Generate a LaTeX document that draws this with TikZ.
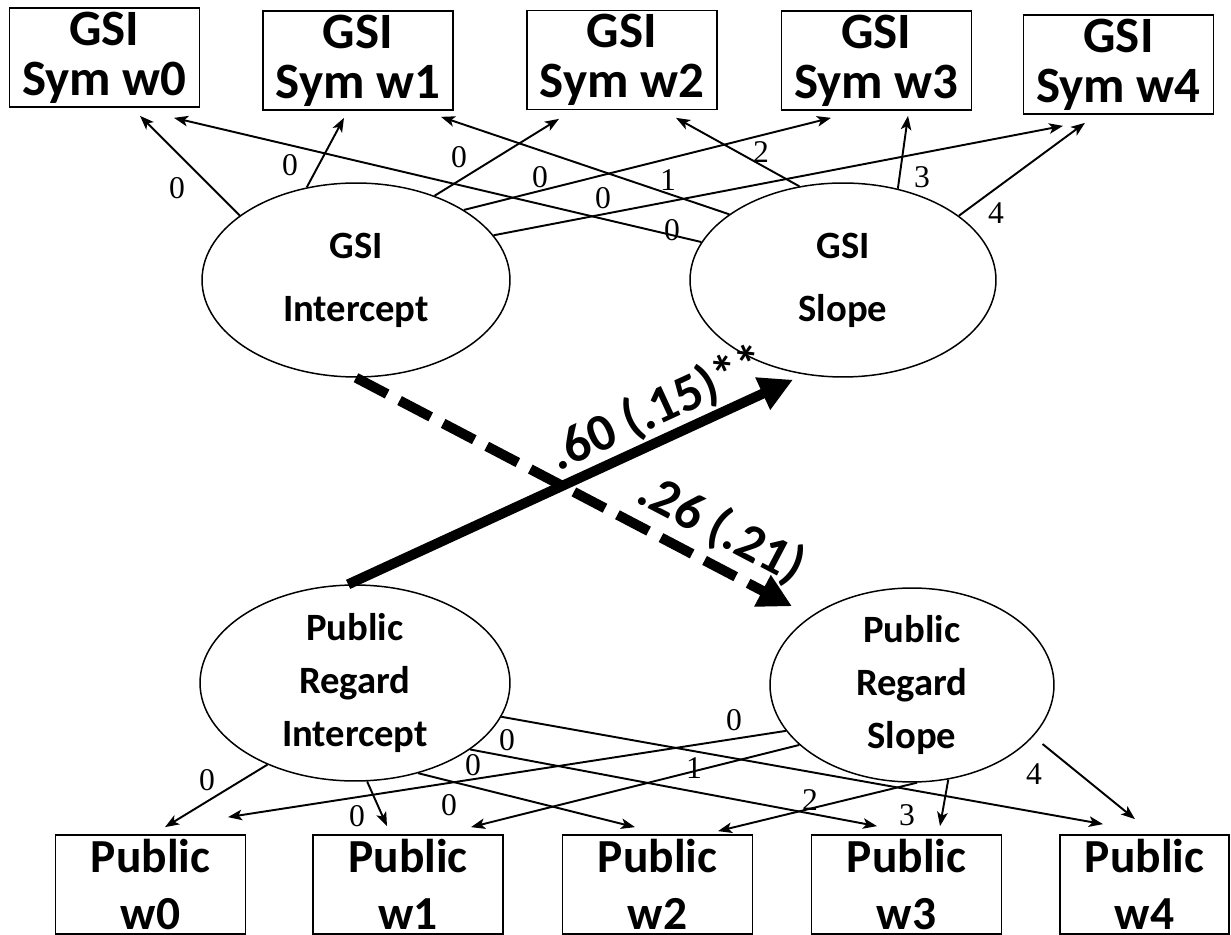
\documentclass[tikz,border=0pt]{standalone}
\usepackage{fontspec}
\setmainfont{Carlito}
\newfontfamily\coeffont{Liberation Serif}
\usetikzlibrary{shapes.geometric,arrows.meta,calc}

\begin{document}
\begin{tikzpicture}[x=0.02cm,y=-0.02cm,
  obsbox/.style={draw, line width=1pt, inner xsep=0pt, inner ysep=-8pt, align=center,
    minimum width=3.8cm, minimum height=1.98cm},
  topfont/.style={font=\bfseries\fontsize{29}{28.5}\selectfont},
  botfont/.style={font=\bfseries\fontsize{27}{32.5}\selectfont},
  latent/.style={draw, ellipse, line width=0.85pt, inner xsep=0pt, inner ysep=-12pt,
    align=center, font=\bfseries\fontsize{22}{36}\selectfont},
  latent3/.style={latent, font=\bfseries\fontsize{22}{30}\selectfont},
  load/.style={-{Stealth[length=8pt,width=6pt,inset=2pt]}, line width=1.1pt},
  wt/.style={font=\coeffont\fontsize{18}{18}\selectfont, inner sep=0pt},
  effect/.style={line width=5.7pt, -{Triangle[length=19pt,width=19pt]}},
  effectdash/.style={effect, dash pattern=on 20pt off 8pt},
  coef/.style={font=\bfseries\fontsize{30}{30}\selectfont, sloped, inner sep=0pt}
]
\useasboundingbox[fill=white] (0,0) rectangle (1231,935);

% observed GSI symptom scores
\node[obsbox, topfont] (g0) at (104.5,57.5) {GSI\\Sym w0};
\node[obsbox, topfont] (g1) at (358,60.5) {GSI\\Sym w1};
\node[obsbox, topfont] (g2) at (622,60) {GSI\\Sym w2};
\node[obsbox, topfont] (g3) at (876.5,60.5) {GSI\\Sym w3};
\node[obsbox, topfont] (g4) at (1118.5,64.5) {GSI\\Sym w4};

% growth factors
\node[latent, minimum width=6.16cm, minimum height=3.88cm] (gi) at (356,280) {GSI\\Intercept};
\node[latent, minimum width=6.12cm, minimum height=3.88cm] (gs) at (843,280) {GSI\\Slope};
\node[latent3, minimum width=6.2cm, minimum height=3.92cm] (pri) at (355,683) {Public\\Regard\\Intercept};
\node[latent3, minimum width=5.68cm, minimum height=3.88cm] (prs) at (912,685) {Public\\Regard\\Slope};

% observed public regard scores
\node[obsbox, botfont] (p0) at (150.5,884.5) {Public\\w0};
\node[obsbox, botfont] (p1) at (408,884.5) {Public\\w1};
\node[obsbox, botfont] (p2) at (657.5,884.5) {Public\\w2};
\node[obsbox, botfont] (p3) at (906.5,884.5) {Public\\w3};
\node[obsbox, botfont, minimum width=3.38cm] (p4) at (1144.5,884.5) {Public\\w4};

% GSI loadings
\draw[load] (gi.151)   -- ($(g0.south)+(35.5,8)$);
\draw[load] (gi.118.7) -- ($(g1.south)+(-14,7)$);
\draw[load] (gi.47.8)  -- ($(g2.south)+(-63,8.5)$);
\draw[load] (gi.33.6)  -- ($(g3.south)+(-45.5,7)$);
\draw[load] (gi.18.2)  -- ($(g4.south)+(-55.5,11)$);
\draw[load] (gs.165.6) -- ($(g0.south)+(69.5,10)$);
\draw[load] (gs.150)   -- ($(g1.south)+(83,6)$);
\draw[load] (gs.115.6) -- ($(g2.south)+(54,7.5)$);
\draw[load] (gs.59.5)  -- ($(g3.south)+(31.5,5)$);
\draw[load] (gs.29)    -- ($(g4.south)+(-33.5,8)$);

\node[wt] (a0) at (177,188) {0};
\node[wt] (a1) at (290,165) {0};
\node[wt] (a2) at (459,157) {0};
\node[wt] (a3) at (540,177) {0};
\node[wt] (a4) at (603,198) {0};
\node[wt] (b0) at (672,230) {0};
\node[wt] (b1) at (668,180) {1};
\node[wt] (b2) at (761,152) {2};
\node[wt] (b3) at (922,177) {3};
\node[wt] (b4) at (996,213) {4};

% public regard loadings
\draw[load] (pri.-137.6) -- ($(p0.north)+(14.5,-7)$);
\draw[load] (pri.-83.7)  -- ($(p1.north)+(-21,-8)$);
\draw[load] (pri.-55.4)  -- ($(p2.north)+(-22.5,-7)$);
\draw[load] (pri.-30.9)  -- ($(p3.north)+(-29.5,-8)$);
\draw[load] (pri.-13)    -- ($(p4.north)+(-41.5,-10)$);
\draw[load] (prs.-160.5) -- ($(p0.north)+(77.5,-17)$);
\draw[load] (prs.-152.5) -- ($(p1.north)+(63,-7)$);
\draw[load] (prs.-87.7)  -- ($(p2.north)+(60.5,-3)$);
\draw[load] (prs.-69)    -- ($(p3.north)+(33.5,-8)$);
\draw[load, shorten <=6.8pt] (prs.-23) -- ($(p4.north)+(-9.5,-15)$);

\node[wt] (c0) at (207,780) {0};
\node[wt] (c1) at (357,816) {0};
\node[wt] (c2) at (449,805) {0};
\node[wt] (c3) at (473,765) {0};
\node[wt] (c4) at (507,740) {0};
\node[wt] (d0) at (734,720) {0};
\node[wt] (d1) at (694,768) {1};
\node[wt] (d2) at (810,800) {2};
\node[wt] (d3) at (907,815) {3};
\node[wt] (d4) at (1034,774) {4};

% cross-lagged effects
\draw[effect] (pri.94) -- ($(gs.south)+(-50,2)$)
  node[coef, pos=.725, above=1pt] (e1) {.60 (.15)**};
\draw[effectdash] (gi.south) -- ($(prs.north)+(-120,19)$)
  node[coef, pos=.80, above=4pt] (e2) {.26 (.21)};
\end{tikzpicture}
\end{document}
